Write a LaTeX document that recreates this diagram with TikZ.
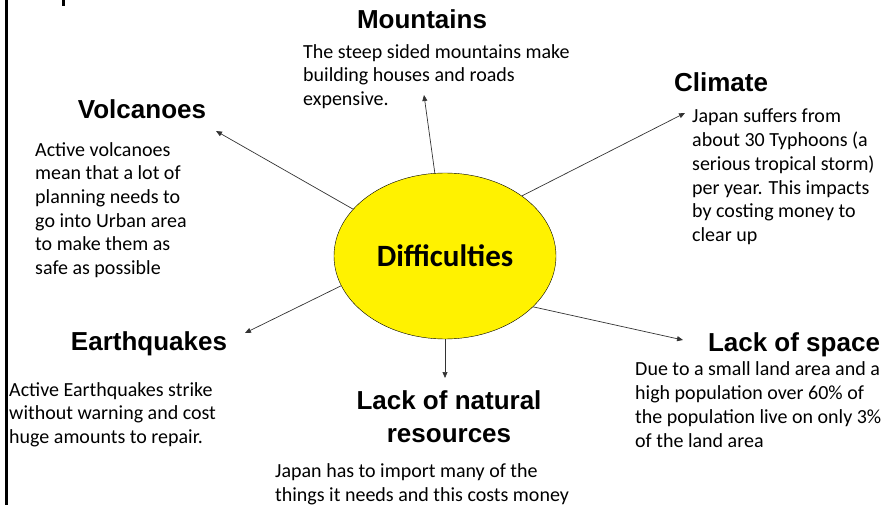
\documentclass[tikz,border=0pt]{standalone}
\usepackage{fontspec}
\setmainfont{Carlito}
\newfontfamily\headfont{Liberation Sans}
\usepackage{tikz}
\usetikzlibrary{arrows.meta,shapes.geometric,positioning,calc}

\begin{document}
\begin{tikzpicture}[x=1pt,y=-1pt,>={Triangle[length=6pt,width=5pt]},
  head/.style={anchor=base,inner sep=0,align=center,font=\headfont\bfseries\fontsize{26}{33}\selectfont},
  body/.style={anchor=base west,inner sep=0,align=left,font=\fontsize{20}{23.7}\selectfont},
  link/.style={->,line width=0.7pt,black!80}]
\useasboundingbox (0,0) rectangle (887,505);
\draw[line width=3pt] (6,0) -- (6,505);
\draw[line width=3pt] (63,0) -- (63,6);
\node[ellipse,draw,fill=yellow,minimum width=222pt,minimum height=166pt,inner sep=0,
  font=\bfseries\fontsize{31}{31}\selectfont] (diff) at (445,256) {Difficulties};
% base anchors sit on the last line
\node[head] (mount) at (422,29) {Mountains};
\node[body] (mounttxt) at (303,105.5) {The steep sided mountains make\\building houses and roads\\expensive.};
\node[head] (clim) at (721,92) {Climate};
\node[body] (climtxt) at (692,241.5) {Japan suffers from\\about 30 Typhoons (a\\serious tropical storm)\\per year. This impacts\\by costing money to\\clear up};
\node[head] (volc) at (142,119) {Volcanoes};
\node[body] (volctxt) at (35,274.5) {Active volcanoes\\mean that a lot of\\planning needs to\\go into Urban area\\to make them as\\safe as possible};
\node[head] (quake) at (149,351) {Earthquakes};
\node[body] (quaketxt) at (9,443.5) {Active Earthquakes strike\\without warning and cost\\huge amounts to repair.};
\node[head] (space) at (794,352) {Lack of space};
\node[body] (spacetxt) at (635,447) {Due to a small land area and a\\high population over 60\% of\\the population live on only 3\%\\of the land area};
\node[head] (res) at (449,442) {Lack of natural\\resources};
\node[body] (restxt) at (275,501.5) {Japan has to import many of the\\things it needs and this costs money};
\coordinate (volctip) at (216,131);
\coordinate (mounttip) at (424,95);
\coordinate (climtip) at (685,113);
\coordinate (quaketip) at (245,333);
\coordinate (restip) at (445,378);
\coordinate (spacetip) at (683,340);
\draw[link] (diff.153) -- (volctip);
\draw[link] (diff.97) -- (mounttip);
\draw[link] (diff.38) -- (climtip);
\draw[link] (diff.196) -- (quaketip);
\draw[link] (diff.270) -- (restip);
\draw[link] (diff.330) -- (spacetip);
\end{tikzpicture}
\end{document}
